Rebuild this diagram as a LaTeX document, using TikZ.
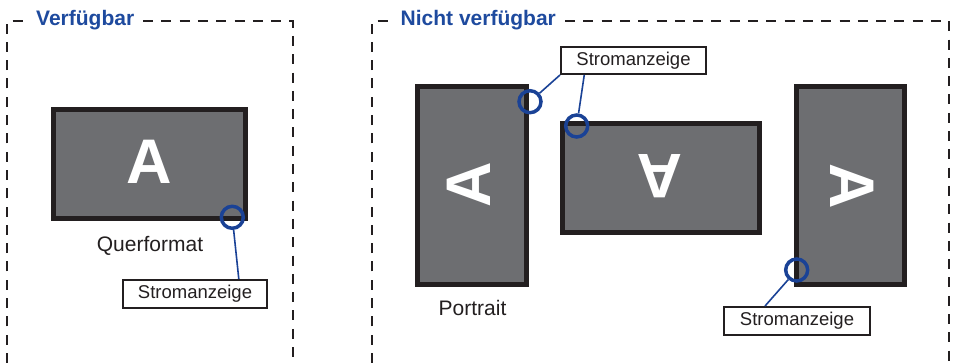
\documentclass[tikz,border=0pt]{standalone}
\usepackage{fontspec}
\setmainfont{Liberation Sans}
\usetikzlibrary{calc}
\definecolor{titleblue}{RGB}{30,74,158}
\definecolor{ledblue}{RGB}{26,66,150}
\definecolor{screen}{RGB}{109,110,113}
\definecolor{frame}{RGB}{35,31,32}
\begin{document}
\begin{tikzpicture}[x=1pt,y=-1pt,
  zone/.style={line width=2.4pt,frame,dash pattern=on 10pt off 8.3pt},
  zonetitle/.style={text=titleblue,font=\fontsize{21}{25}\selectfont\bfseries,inner sep=0pt,anchor=base west},
  monitor/.style={draw=frame,fill=screen,line width=5pt,inner sep=0pt},
  letter/.style={text=white,font=\fontsize{63}{63}\selectfont\bfseries,inner sep=0pt},
  ledring/.style={circle,draw=ledblue,line width=3.5pt,minimum size=22pt,inner sep=0pt},
  labelbox/.style={draw=frame,line width=2pt,fill=white,inner sep=0pt,text=frame,font=\fontsize{18.5}{20}\selectfont},
  caption/.style={text=frame,font=\fontsize{21}{25}\selectfont,inner sep=0pt,anchor=base},
  leader/.style={ledblue,line width=1.6pt}]
\useasboundingbox (0,0) rectangle (953,363);
% zones
\draw[zone] (7,363) -- (7,21) -- (28,21);
\draw[zone] (143,21) -- (292.7,21) -- (292.7,363);
\node[zonetitle] (tL) at (36,25.5) {Verfügbar};
\draw[zone] (372,363) -- (372,21) -- (393,21);
\draw[zone] (565,21) -- (949,21) -- (949,363);
\node[zonetitle] (tR) at (400.5,25.5) {Nicht verfügbar};
% monitors
\node[monitor,minimum width=192pt,minimum height=109pt] (mL) at (149.5,164) {};
\node[letter] (aL) at (149,162) {A};
\node[monitor,minimum width=109pt,minimum height=198pt] (mP1) at (472,185.5) {};
\node[letter,rotate=90] (aP1) at (469,184.5) {A};
\node[monitor,minimum width=197pt,minimum height=109pt] (mL2) at (661,178) {};
\node[letter,rotate=180] (aL2) at (660,176) {A};
\node[monitor,minimum width=108pt,minimum height=198pt] (mP3) at (850.5,185.5) {};
\node[letter,rotate=-90] (aP3) at (852,186) {A};
% captions
\node[caption] (qf) at (150,251.5) {Querformat};
\node[caption] (pt) at (472.5,315.5) {Portrait};
% label boxes
\node[labelbox,minimum width=144pt,minimum height=28pt] (bL) at (195,294) {Stromanzeige};
\node[labelbox,minimum width=145pt,minimum height=27pt] (bT) at (633.5,60.5) {Stromanzeige};
\node[labelbox,minimum width=146pt,minimum height=28pt] (b3) at (797,321) {Stromanzeige};
% LED rings
\node[ledring] (cL) at (232.3,217.3) {};
\node[ledring] (c1) at (530,101.7) {};
\node[ledring] (c2) at (576.7,126) {};
\node[ledring] (c3) at (796.7,270) {};
% leaders
\coordinate (pL) at ($(bL.north west)!0.80!(bL.north east)$);
\coordinate (p2) at ($(bT.south west)!0.165!(bT.south east)$);
\coordinate (p3) at ($(b3.north west)!0.284!(b3.north east)$);
\draw[leader] (cL) -- (pL);
\draw[leader] (bT.south west) -- (c1);
\draw[leader] (p2) -- (c2);
\draw[leader] (c3) -- (p3);
\end{tikzpicture}
\end{document}
